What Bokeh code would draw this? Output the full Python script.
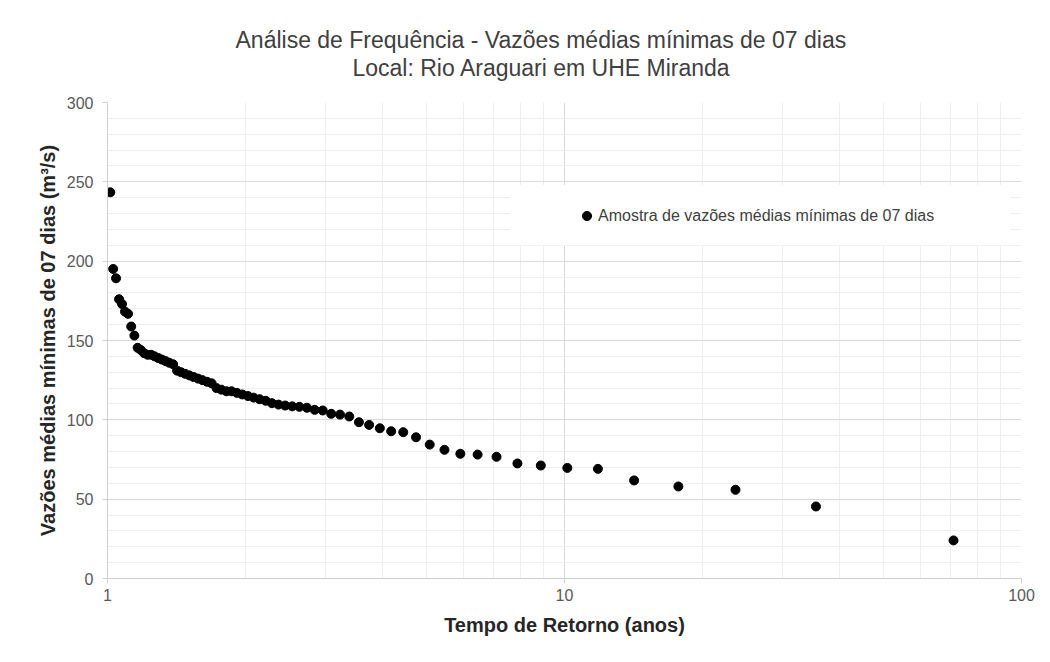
from bokeh.plotting import figure
from bokeh.models import (ColumnDataSource, FixedTicker, PrintfTickFormatter, Title,
                          Legend, LegendItem, BoxAnnotation, Range1d)
from bokeh.embed import file_html
from bokeh.resources import INLINE

# ---- data ----
return_period = [71.0, 35.5, 23.667, 17.75, 14.2, 11.833, 10.143, 8.875, 7.889, 7.1,
                 6.455, 5.917, 5.462, 5.071, 4.733, 4.438, 4.176, 3.944, 3.737, 3.55,
                 3.381, 3.227, 3.087, 2.958, 2.84, 2.731, 2.63, 2.536, 2.448, 2.367,
                 2.29, 2.219, 2.152, 2.088, 2.029, 1.972, 1.919, 1.868, 1.821, 1.775,
                 1.732, 1.69, 1.651, 1.614, 1.578, 1.543, 1.511, 1.479, 1.449, 1.42,
                 1.392, 1.365, 1.34, 1.315, 1.291, 1.268, 1.246, 1.224, 1.203, 1.183,
                 1.164, 1.145, 1.127, 1.109, 1.092, 1.076, 1.06, 1.044, 1.029, 1.014]
flows = [24.0, 45.4, 55.9, 58.0, 61.8, 69.1, 69.7, 71.2, 72.5, 76.7,
         78.1, 78.6, 81.1, 84.4, 89.0, 92.2, 92.8, 94.7, 96.8, 98.5,
         102.1, 103.3, 103.8, 105.9, 106.3, 107.6, 108.2, 108.5, 109.0, 109.6,
         110.5, 112.0, 113.0, 114.0, 115.0, 116.0, 117.0, 118.0, 118.0, 119.0,
         120.0, 123.0, 124.0, 125.0, 126.0, 127.0, 128.0, 129.0, 130.0, 131.0,
         135.0, 136.0, 137.0, 138.0, 139.0, 140.0, 141.0, 141.0, 142.0, 144.0,
         145.4, 153.1, 158.8, 166.8, 168.2, 173.0, 176.0, 189.2, 195.1, 243.4]

x_major_ticks = [1, 10, 100]
x_minor_ticks = [2, 3, 4, 5, 6, 7, 8, 9, 20, 30, 40, 50, 60, 70, 80, 90]
y_major_ticks = [0, 50, 100, 150, 200, 250, 300]
y_minor_ticks = [v for v in range(0, 301, 10) if v % 50 != 0]

title_line1 = "Análise de Frequência - Vazões médias mínimas de 07 dias"
title_line2 = "Local: Rio Araguari em UHE Miranda"
x_label = "Tempo de Retorno (anos)"
y_label = "Vazões médias mínimas de 07 dias (m³/s)"
legend_label = "Amostra de vazões médias mínimas de 07 dias"

FONT = "Liberation Sans"

p = figure(width=1042, height=654, x_axis_type="log",
           x_range=Range1d(1, 100), y_range=Range1d(0, 300),
           output_backend="svg", toolbar_location=None,
           min_border_left=107, min_border_right=21, min_border_top=102, min_border_bottom=76)
p.outline_line_color = None
p.background_fill_color = "white"
p.border_fill_color = "white"

# titles: spacer nearest the frame, then line 2, then line 1
spacer = Title(text=" ", text_font_size="18px", standoff=0, align="left")
t2 = Title(text=title_line2, align="left", offset=245, standoff=0,
           text_font=FONT, text_font_size="23px", text_font_style="normal",
           text_color="#404040", text_line_height=0.9)
t1 = Title(text=title_line1, align="left", offset=128, standoff=0,
           text_font=FONT, text_font_size="23px", text_font_style="normal",
           text_color="#404040", text_line_height=0.9)
p.add_layout(spacer, "above")
p.add_layout(t2, "above")
p.add_layout(t1, "above")

src = ColumnDataSource(data=dict(t=return_period, q=flows))
r = p.scatter("t", "q", source=src, size=9, fill_color="black", line_color="black")

# axes
p.xaxis.ticker = FixedTicker(ticks=x_major_ticks, minor_ticks=x_minor_ticks)
p.xaxis.formatter = PrintfTickFormatter(format="%d")
p.yaxis.ticker = FixedTicker(ticks=y_major_ticks, minor_ticks=y_minor_ticks)

for ax in (p.xaxis[0], p.yaxis[0]):
    ax.axis_line_color = "#d0d0d0"
    ax.major_tick_line_color = "#d0d0d0"
    ax.major_tick_out = 5
    ax.major_tick_in = 0
    ax.minor_tick_out = 0
    ax.minor_tick_in = 0
    ax.major_label_text_font = FONT
    ax.major_label_text_font_size = "16px"
    ax.major_label_text_color = "#595959"
    ax.axis_label_text_font = FONT
    ax.axis_label_text_font_style = "bold"
    ax.axis_label_text_color = "#262626"

p.xaxis.axis_label = x_label
p.yaxis.axis_label = y_label
p.xaxis.axis_label_text_font_size = "20px"
p.yaxis.axis_label_text_font_size = "20px"
p.xaxis.major_label_standoff = 5
p.xaxis.axis_label_standoff = 10
p.yaxis.major_label_standoff = 9
p.yaxis.axis_label_standoff = 5

# grids
p.xgrid.grid_line_color = "#d9d9d9"
p.ygrid.grid_line_color = "#d9d9d9"
p.xgrid.minor_grid_line_color = "#eeeeee"
p.ygrid.minor_grid_line_color = "#eeeeee"

# legend background box
box = BoxAnnotation(left=7.6, right=94.6, bottom=210, top=248,
                    fill_color="white", fill_alpha=1.0, line_color=None, level="annotation")
p.add_layout(box)

legend = Legend(items=[LegendItem(label=legend_label, renderers=[r])],
                location=(468, 351), padding=0, margin=0, spacing=0,
                glyph_width=23, glyph_height=23, label_standoff=-2,
                background_fill_alpha=0, border_line_color=None,
                label_text_font=FONT, label_text_font_size="16px", label_text_color="#404040")
p.add_layout(legend, "center")

open("out.html", "w").write(file_html(p, INLINE))
